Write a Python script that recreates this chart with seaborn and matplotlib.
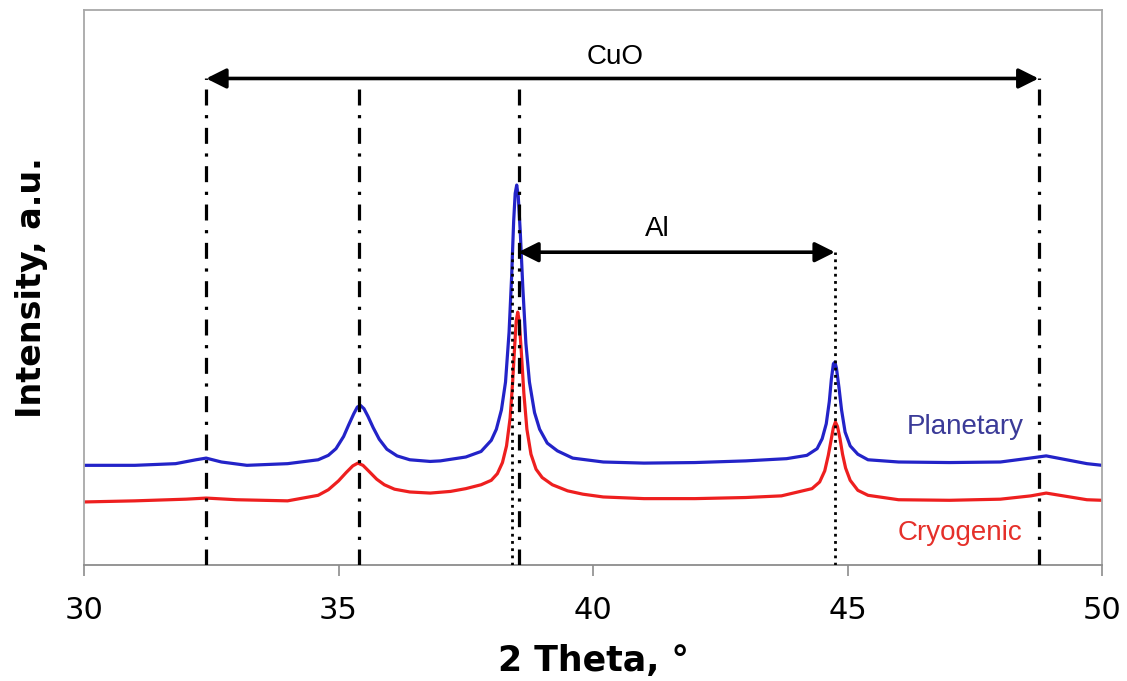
import matplotlib
matplotlib.use("Agg")
import matplotlib.pyplot as plt
import seaborn as sns
import pandas as pd

# ---- data (intensity in arbitrary units) ----
planetary_x = [30.0, 31.0, 31.8, 32.2, 32.4, 32.7, 33.2, 34.0, 34.6, 34.8, 34.95, 35.1, 35.2, 35.3,
               35.37, 35.43, 35.5, 35.58, 35.68, 35.8, 35.95, 36.15, 36.4, 36.8, 37.0, 37.5, 37.8,
               38.0, 38.1, 38.2, 38.28, 38.35, 38.4, 38.44, 38.47, 38.5, 38.53, 38.57, 38.62,
               38.68, 38.75, 38.85, 38.95, 39.1, 39.3, 39.6, 40.2, 41.0, 42.0, 43.0, 43.8, 44.2,
               44.4, 44.5, 44.58, 44.64, 44.68, 44.72, 44.75, 44.78, 44.83, 44.88, 44.95, 45.05,
               45.2, 45.4, 46.0, 47.0, 48.0, 48.5, 48.9, 49.3, 49.7, 50.0]
planetary_y = [18.0, 18.0, 18.3, 19.0, 19.3, 18.6, 18.0, 18.3, 19.0, 19.8, 21.0, 23.2, 25.3, 27.3,
               28.5, 28.8, 28.2, 26.8, 24.8, 22.7, 20.9, 19.7, 19.0, 18.7, 18.8, 19.5, 20.5,
               22.5, 24.5, 28.0, 33.0, 42.0, 52.0, 62.0, 67.0, 68.5, 66.5, 60.0, 50.0,
               40.0, 33.0, 27.5, 24.5, 22.0, 20.6, 19.3, 18.6, 18.4, 18.5, 18.8, 19.2, 19.8,
               21.0, 22.8, 25.5, 29.5, 33.5, 36.3, 36.6, 35.5, 32.0, 28.0, 24.0, 21.5,
               20.0, 19.0, 18.6, 18.5, 18.6, 19.2, 19.7, 19.0, 18.3, 18.0]

cryogenic_x = [30.0, 31.0, 32.0, 32.4, 33.0, 34.0, 34.6, 34.8, 35.0, 35.15, 35.28, 35.38, 35.48,
               35.6, 35.75, 35.9, 36.1, 36.4, 36.8, 37.2, 37.5, 37.8, 38.0, 38.12, 38.22, 38.3,
               38.37, 38.42, 38.46, 38.49, 38.52, 38.55, 38.59, 38.64, 38.7, 38.78, 38.88, 39.0,
               39.2, 39.5, 39.8, 40.2, 41.0, 42.0, 43.0, 43.7, 44.3, 44.45, 44.55, 44.62, 44.68,
               44.72, 44.76, 44.8, 44.85, 44.9, 44.96, 45.05, 45.2, 45.4, 46.0, 47.0, 48.0,
               48.6, 48.9, 49.3, 49.7, 50.0]
cryogenic_y = [11.4, 11.6, 11.9, 12.1, 11.8, 11.6, 12.6, 13.6, 15.2, 16.7, 17.9, 18.4, 18.0,
               16.9, 15.5, 14.5, 13.7, 13.2, 13.0, 13.3, 13.8, 14.5, 15.3, 16.5, 18.5, 21.5,
               26.5, 33.0, 39.5, 44.0, 45.6, 44.0, 38.5, 31.0, 24.5, 20.0, 17.3, 15.8,
               14.5, 13.4, 12.8, 12.3, 12.0, 12.0, 12.2, 12.5, 13.8, 15.0, 17.0, 19.8, 22.8,
               24.8, 25.8, 25.0, 22.8, 20.0, 17.5, 15.3, 13.5, 12.6, 11.8, 11.7, 11.9,
               12.5, 13.0, 12.4, 11.8, 11.7]

cuo_peaks = [32.4, 35.4, 38.55, 48.75]
al_peaks = [38.4, 44.75]
cuo_level = 87.7
al_level = 56.4
series_names = ["Planetary", "Cryogenic"]
x_ticks = [30, 35, 40, 45, 50]

# ---- build table ----
df = pd.concat([
    pd.DataFrame({"theta": planetary_x, "intensity": planetary_y, "sample": series_names[0]}),
    pd.DataFrame({"theta": cryogenic_x, "intensity": cryogenic_y, "sample": series_names[1]}),
])

sns.set_theme(style="white")
plt.rcParams["font.family"] = ["DejaVu Sans"]
plt.rcParams["text.color"] = "black"
plt.rcParams["axes.labelcolor"] = "black"
plt.rcParams["xtick.color"] = "black"

fig = plt.figure(figsize=(11.27, 6.81), dpi=100)
ax = fig.add_axes([0.0745, 0.170, 0.9035, 0.815])

palette = {"Planetary": "#2323c8", "Cryogenic": "#ee1f1f"}
sns.lineplot(data=df, x="theta", y="intensity", hue="sample", palette=palette,
             estimator=None, sort=True, lw=2.3, legend=False, ax=ax)

# reference lines
for p in cuo_peaks:
    ax.plot([p, p], [0, cuo_level], color="black", lw=2.3,
            linestyle=(0, (5, 3, 1, 3)), zorder=3)
for p in al_peaks:
    ax.plot([p, p], [0, al_level], color="black", lw=2.0,
            linestyle=(0, (1, 1.6)), zorder=3)

arrowprops = dict(arrowstyle="<|-|>", color="black", lw=2.6,
                  mutation_scale=30, shrinkA=0, shrinkB=0)
ax.annotate("", xy=(cuo_peaks[0], cuo_level), xytext=(cuo_peaks[-1], cuo_level),
            arrowprops=arrowprops)
ax.annotate("", xy=(cuo_peaks[2] - 0.02, al_level), xytext=(al_peaks[-1], al_level),
            arrowprops=arrowprops)

lab = dict(family=["Liberation Sans", "DejaVu Sans"], fontsize=20, ha="center", va="center")
ax.text(40.43, 91.6, "CuO", color="black", **lab)
ax.text(41.26, 60.6, "Al", color="black", **lab)
ax.text(47.31, 24.9, "Planetary", color="#3b3b98", **lab)
ax.text(47.21, 5.8, "Cryogenic", color="#e5302a", **lab)

ax.set_xlim(30, 50)
ax.set_ylim(0, 100)
ax.set_xticks(x_ticks)
ax.set_yticks([])
ax.tick_params(axis="x", direction="out", length=8, width=1.2, color="#8c8c8c",
               labelsize=22, labelcolor="black", pad=14, bottom=True)
for s in ax.spines.values():
    s.set_color("#a8a8a8")
    s.set_linewidth(1.3)
ax.spines["bottom"].set_color("#8c8c8c")

ax.set_xlabel("2 Theta, °", fontsize=25, fontweight="bold", labelpad=14, color="black")
ax.set_ylabel("Intensity, a.u.", fontsize=24, fontweight="bold", labelpad=26, color="black")

fig.savefig("out.png", dpi=100)
